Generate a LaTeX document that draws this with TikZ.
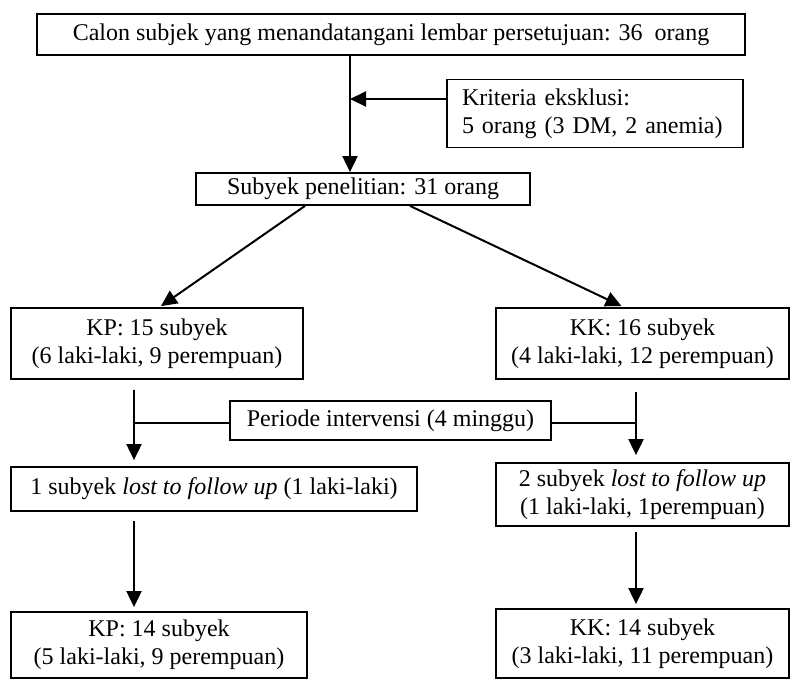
\documentclass[tikz,border=0pt]{standalone}
\usepackage{fontspec}
\setmainfont{Liberation Serif}
\usetikzlibrary{arrows.meta,calc}
\tikzset{
  box/.style={draw, line width=1.8pt, inner sep=0pt, align=center,
    font=\fontsize{24}{28}\selectfont},
  arr/.style={line width=2pt, -{Triangle[length=16pt,width=15pt]}},
  thinline/.style={line width=1.4pt}
}
\begin{document}
\begin{tikzpicture}[x=1pt,y=-1pt]
\useasboundingbox (0,0) rectangle (792,680);
% boxes
\node[box, minimum width=708pt, minimum height=41pt] (top) at (391,34.5)
  {Calon subjek yang menandatangani lembar persetujuan: 36\ \ orang};
\node[box, minimum width=296pt, minimum height=68pt, text width=266pt, align=left] (excl) at (595,113.5)
  {Kriteria eksklusi:\\5 orang (3 DM, 2 anemia)};
\node[box, minimum width=334pt, minimum height=32pt] (subj) at (363,189)
  {Subyek penelitian: 31 orang};
\node[box, minimum width=292pt, minimum height=71pt] (kp) at (157,343.5)
  {KP: 15 subyek\\(6 laki-laki, 9 perempuan)};
\node[box, minimum width=293pt, minimum height=71pt] (kk) at (642.5,343.5)
  {KK: 16 subyek\\(4 laki-laki, 12 perempuan)};
\node[box, minimum width=321pt, minimum height=39pt] (per) at (390.5,420.5)
  {Periode intervensi (4 minggu)};
\node[box, minimum width=406pt, minimum height=44pt] (lf1) at (214,489)
  {1 subyek \textit{lost to follow up} (1 laki-laki)};
\node[box, minimum width=293pt, minimum height=63pt] (lf2) at (642.5,494.5)
  {2 subyek \textit{lost to follow up}\\ (1 laki-laki, 1perempuan)};
\node[box, minimum width=296pt, minimum height=66pt] (kp2) at (159,645)
  {KP: 14 subyek\\(5 laki-laki, 9 perempuan)};
\node[box, minimum width=293pt, minimum height=69pt] (kk2) at (642.5,643.5)
  {KK: 14 subyek\\(3 laki-laki, 11 perempuan)};
% helper coordinates
\coordinate (j1) at (350,99);
\coordinate (i1) at (134,423);
\coordinate (i2) at (636,423);
% connectors
\draw[arr] (top.south -| j1) -- (subj.north -| j1);
\draw[arr] (excl.west |- j1) -- (j1);
\draw[arr] ([xshift=-58pt]subj.south) -- ([xshift=4pt,yshift=1pt]kp.north);
\draw[arr] ([xshift=47pt]subj.south) -- ([xshift=-21pt,yshift=1pt]kk.north);
\draw[arr] ([yshift=-10pt]kp.south -| i1) -- ([yshift=6pt]lf1.north -| i1);
\draw[arr] ([yshift=-12pt]kk.south -| i2) -- ([yshift=7pt]lf2.north -| i2);
\draw[thinline] (per.west |- i1) -- (i1);
\draw[thinline] (per.east |- i2) -- (i2);
\draw[arr] ([yshift=-9pt]lf1.south -| i1) -- ([yshift=4pt]kp2.north -| i1);
\draw[arr] ([yshift=-5pt]lf2.south -| i2) -- ([yshift=4pt]kk2.north -| i2);
\end{tikzpicture}
\end{document}
